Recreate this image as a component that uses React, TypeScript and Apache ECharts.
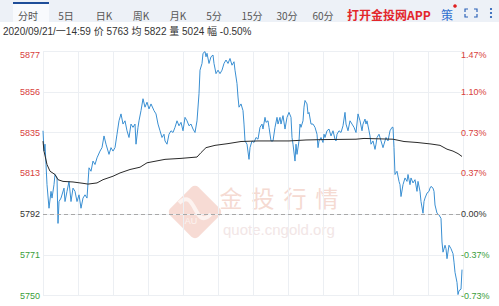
import React, { useEffect, useRef } from "react";
import * as echarts from "echarts";

// ---- data ----
const priceTicks = [0,1,2,3,4,6,8,9,11,12,14,15,16,18,21,22,24,26,28,30,32,34,36,38,40,42,44,46,48,50,52,54,57,59,61,63,66,68,70,72,74,76,78,80,82,84,86,88,90,92,93,95,96,98,100,102,104,106,108,111,113,115,117,119,121,122,124,126,128,130,132,134,136,138,140,142,144,146,148,150,152,154,156,157,159,160,162,163,164,166,168,170,171,173,175,177,179,181,183,185,187,189,191,192,194,195,196,198,200,201,202,204,206,207,209,211,213,215,217,219,220,222,223,225,226,228,230,232,234,235,237,238,240,242,244,246,248,249,250,252,253,254,256,257,258,260,261,262,264,265,266,268,270,272,274,275,276,278,280,281,282,284,286,288,290,292,293,294,296,298,300,302,303,305,307,309,311,313,315,317,319,320,322,323,324,326,327,328,330,332,333,334,336,338,340,341,343,345,347,349,350,351,352,354,356,357,358,360,362,364,365,367,368,370,372,374,375,377,378,380,381,382,384,386,387,388,390,391,392,394,396,398,399,400,402,403,404,406,407,408,410,411,412,414,415,416,418,419];
const prices = [5835.4,5824.8,5828.4,5817.8,5807.3,5795.0,5803.8,5800.3,5807.3,5812.6,5810.8,5787.1,5798.5,5800.3,5805.5,5798.5,5803.8,5809.0,5798.5,5805.5,5803.8,5798.5,5802.0,5795.0,5800.3,5802.0,5800.3,5816.1,5814.3,5819.6,5817.8,5821.3,5824.8,5826.6,5832.7,5828.4,5823.1,5826.6,5824.8,5826.6,5833.6,5840.6,5844.2,5838.9,5840.6,5835.4,5831.9,5838.9,5837.2,5838.9,5828.4,5837.2,5840.6,5845.9,5852.1,5847.7,5850.3,5846.8,5849.4,5845.9,5844.2,5838.9,5835.4,5831.9,5833.6,5830.1,5828.4,5833.6,5835.4,5834.5,5837.2,5840.6,5838.0,5839.8,5835.4,5842.4,5840.6,5838.0,5838.9,5836.3,5834.5,5840.6,5854.7,5867.0,5870.5,5875.8,5876.7,5874.0,5875.8,5870.5,5874.0,5874.9,5870.5,5865.2,5867.0,5865.2,5867.0,5870.5,5872.3,5870.5,5873.1,5869.6,5871.4,5867.0,5860.0,5853.0,5847.7,5849.4,5845.9,5838.9,5830.1,5828.4,5820.5,5826.6,5830.1,5829.3,5831.9,5831.0,5837.2,5838.9,5836.3,5842.4,5839.8,5840.6,5837.2,5830.1,5830.1,5837.2,5842.4,5838.9,5842.4,5838.9,5843.3,5836.3,5842.4,5845.0,5842.4,5831.9,5828.4,5819.6,5828.4,5823.1,5830.1,5838.9,5837.2,5840.6,5847.7,5851.2,5849.4,5844.2,5845.0,5838.9,5838.9,5837.2,5833.6,5826.6,5830.1,5831.9,5829.3,5833.6,5831.9,5835.4,5836.3,5832.7,5835.4,5831.0,5830.1,5833.6,5835.4,5834.5,5838.0,5845.0,5838.9,5835.4,5840.6,5838.9,5837.2,5834.5,5844.2,5840.6,5835.4,5838.9,5841.5,5838.9,5840.6,5835.4,5832.7,5828.4,5830.1,5825.7,5828.4,5831.9,5833.6,5830.1,5826.6,5828.4,5831.9,5830.1,5835.4,5837.2,5837.2,5826.6,5812.6,5814.3,5809.0,5807.3,5801.1,5807.3,5810.8,5809.0,5812.6,5807.3,5810.8,5808.2,5809.9,5803.8,5809.0,5803.8,5798.5,5792.4,5798.5,5800.3,5802.9,5803.8,5805.5,5806.4,5805.5,5803.8,5796.7,5792.4,5791.5,5789.7,5777.4,5772.1,5775.7,5773.9,5768.7,5775.7,5774.8,5773.9,5771.3,5766.9,5761.6,5756.3,5750.0,5752.0,5752.8,5763.0];
const avgTicks = [0,1,4,7,12,15,20,30,40,45,54,60,70,77,87,97,104,122,138,154,158,163,172,185,198,215,246,263,280,313,321,350,361,374,388,397,404,410,415,419];
const avgPrices = [5830.0,5824.8,5817.8,5814.3,5812.6,5809.9,5809.0,5808.7,5808.0,5807.6,5808.2,5809.9,5811.7,5813.4,5815.2,5816.4,5818.7,5820.5,5821.0,5821.7,5824.0,5826.6,5827.8,5828.7,5829.8,5830.1,5830.1,5830.6,5830.8,5831.0,5831.4,5831.0,5829.8,5829.3,5828.5,5827.8,5825.8,5824.8,5823.5,5822.0];
const prevClose = 5792;
const yMin = 5749.5;
const yMax = 5877;
const yStep = 21.25;
const tickCount = 420;
const tickStep = 35;
const tabLabels = ["分时", "5日", "日K", "周K", "月K", "5分", "15分", "30分", "60分"];
const infoDate = "2020/09/21/一14:59";
const infoLabels = ["价", "均", "量", "幅"];
const infoValues = ["5763", "5822", "5024", "-0.50%"];

// ---- layout / style ----
const tabCenters = [28, 66, 104, 141, 178, 214, 252, 287, 323];
const RED = "#d8403c";
const GREEN = "#3a9d3a";
const CJK = '"Noto Sans CJK SC", sans-serif';
const LATIN = 'Arial, "Liberation Sans", "Noto Sans CJK SC", sans-serif';

function labelColor(v: number) {
  if (Math.abs(v - prevClose) < 1e-6) return "#333";
  return v > prevClose ? RED : GREEN;
}

export default function App() {
  const ref = useRef<HTMLDivElement>(null);
  useEffect(() => {
    document.body.style.margin = "0";
    if (!ref.current) return;
    const chart = echarts.init(ref.current, null, { renderer: "svg" });

    const priceData = priceTicks.map((t, i) => [t, prices[i]]);
    const avgData = avgTicks.map((t, i) => [t, avgPrices[i]]);
    const infoLine = [infoDate, ...infoLabels.map((l, i) => `${l} ${infoValues[i]}`)].join(" ");

    const txt = (x: number, y: number, text: string, fill: string, font: string, center = false, z = 0) => ({
      type: "text", silent: true, z, x, y,
      style: {
        text, fill, font,
        textAlign: center ? "center" : "left", align: center ? "center" : "left",
        textVerticalAlign: "middle", verticalAlign: "middle",
      },
    });

    const graphics: any[] = [
      { type: "rect", silent: true, shape: { x: 0, y: 0, width: 499, height: 22 }, style: { fill: "#edf1f7" } },
      { type: "rect", silent: true, shape: { x: 13, y: 2, width: 36, height: 20 }, style: { fill: "#f8fafd" } },
      { type: "rect", silent: true, shape: { x: 13, y: 2, width: 36, height: 2 }, style: { fill: "#1f4e99" } },
      ...tabLabels.map((t, i) => txt(tabCenters[i], 15, t, "#555", `10px ${CJK}`, true)),
      txt(347, 14, "打开金投网APP", "#e3262b", `bold 12px ${CJK}`),
      txt(447, 14, "策", "#2f6fcf", `12px ${CJK}`, true),
      { type: "circle", silent: true, shape: { cx: 455, cy: 6, r: 1.8 }, style: { fill: "#e02020" } },
      ...[
        [[465, 12], [465, 9], [468, 9]],
        [[474, 9], [477, 9], [477, 12]],
        [[465, 14], [465, 17], [468, 17]],
        [[474, 17], [477, 17], [477, 14]],
      ].map((pts) => ({ type: "polyline", silent: true, shape: { points: pts }, style: { stroke: "#2d63b8", lineWidth: 1.2, fill: null } })),
      ...[9, 13, 17].map((cy) => ({ type: "circle", silent: true, shape: { cx: 491, cy, r: 1.1 }, style: { fill: "#2d63b8" } })),
      txt(3, 31, infoLine, "#333", `10px ${LATIN}`),
      // watermark
      { type: "rect", silent: true, z: -1, x: 195, y: 212, rotation: Math.PI / 4, shape: { x: -20, y: -20, width: 40, height: 40, r: 5 }, style: { fill: "#f7dbd4" } },
      { type: "bezierCurve", silent: true, z: -1, shape: { x1: 179, y1: 203, x2: 211, y2: 214, cpx1: 196, cpy1: 186, cpx2: 194, cpy2: 232 }, style: { stroke: "#fdf3f0", lineWidth: 4, fill: null } },
      txt(191, 221, "AU", "#fdf3f0", `9px ${LATIN}`, true, -1),
      ...["金", "投", "行", "情"].map((c, i) => txt(231 + i * 32, 197, c, "#f5dad2", `23px ${CJK}`, true, -1)),
      txt(223, 229, "quote.cngold.org", "#f2e6e6", `15px ${LATIN}`, false, -1),
    ];

    const axisLabelBase = (side: "left" | "right") => ({
      fontSize: 9,
      fontFamily: LATIN,
      margin: side === "left" ? 3 : -2,
      color: (v: any) => labelColor(Number(v)),
      formatter: (v: number) => {
        const s = side === "left"
          ? String(Math.round(v))
          : (((v - prevClose) / prevClose) * 100).toFixed(2) + "%";
        return Math.abs(v - yMax) < 1e-6 ? `{t|${s}}` : s;
      },
      rich: { t: { color: RED, fontSize: 9, fontFamily: LATIN, padding: [8, 0, 0, 0] } },
    });

    chart.setOption({
      animation: false,
      backgroundColor: "#fff",
      graphic: graphics,
      grid: { left: 43, right: 36, top: 51, bottom: 10.5, containLabel: false },
      xAxis: {
        type: "value", min: 0, max: tickCount, interval: tickStep,
        axisLine: { show: false }, axisTick: { show: false }, axisLabel: { show: false },
        splitLine: { show: true, lineStyle: { color: "#eceff3", width: 1 } },
      },
      yAxis: [
        {
          type: "value", position: "left", min: yMin, max: yMax, interval: yStep,
          axisLine: { show: false }, axisTick: { show: false },
          axisLabel: axisLabelBase("left"),
          splitLine: { show: true, lineStyle: { color: "#eceff3", width: 1 } },
        },
        {
          type: "value", position: "right", min: yMin, max: yMax, interval: yStep,
          axisLine: { show: false }, axisTick: { show: false },
          axisLabel: { ...axisLabelBase("right"), align: "left" },
          splitLine: { show: false },
        },
      ],
      series: [
        {
          type: "line", data: priceData, showSymbol: false, symbol: "none", z: 3,
          lineStyle: { color: "#3a8fd2", width: 1 },
          markLine: {
            silent: true, symbol: "none", label: { show: false },
            lineStyle: { color: "#a8a8a8", type: [4, 3], width: 1 },
            data: [{ yAxis: prevClose }],
          },
        },
        {
          type: "line", data: avgData, showSymbol: false, symbol: "none", z: 4,
          lineStyle: { color: "#2a2a2a", width: 1 },
        },
      ],
    });
    return () => chart.dispose();
  }, []);
  return <div ref={ref} style={{ width: 499, height: 306 }} />;
}
